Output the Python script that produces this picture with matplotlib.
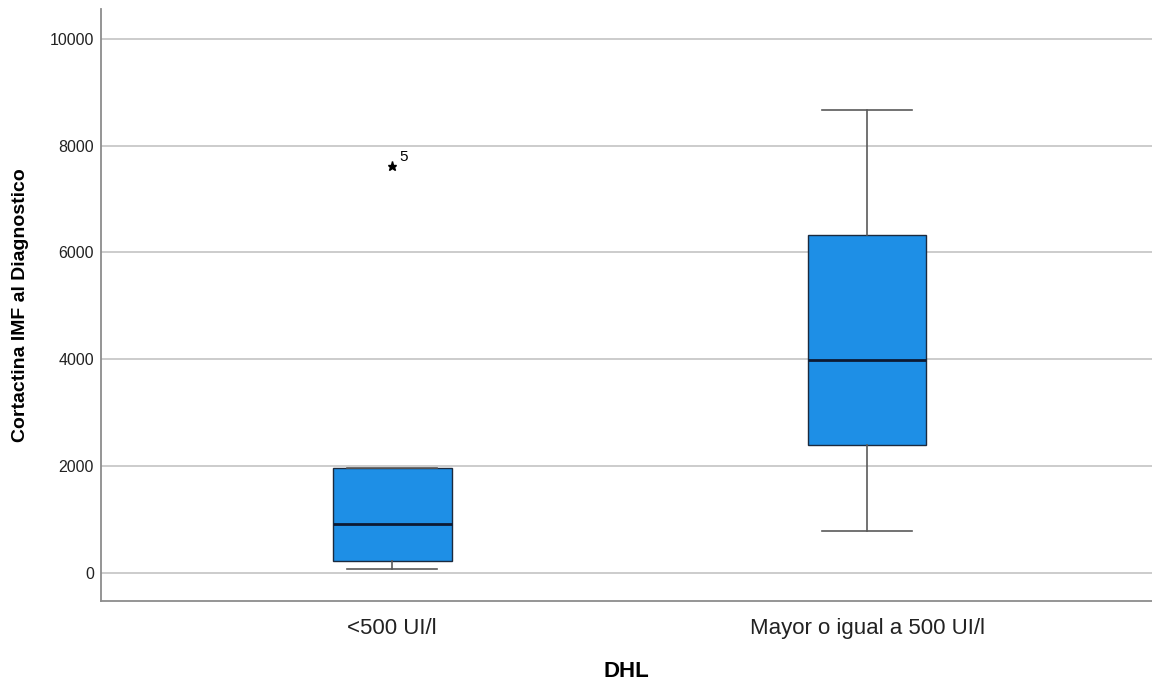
import matplotlib.pyplot as plt

plt.rcParams['font.family'] = ['Liberation Sans', 'DejaVu Sans']

# box statistics per group (Cortactina IMF, by DHL)
groups = ['<500 UI/l', 'Mayor o igual a 500 UI/l']
whislo = [75, 790]
q1 = [230, 2398]
med = [916, 3985]
q3 = [1975, 6330]
whishi = [1975, 8675]
outliers = [[7626], []]
outlier_ids = [['5'], []]

stats = []
for i in range(len(groups)):
    stats.append(dict(label=groups[i], whislo=whislo[i], q1=q1[i], med=med[i],
                      q3=q3[i], whishi=whishi[i], fliers=[]))

fig = plt.figure(figsize=(11.52, 6.82), dpi=100)
ax = fig.add_axes([0.0877, 0.1188, 0.9123, 0.8682])

positions = list(range(len(groups)))
ax.bxp(stats, positions=positions, widths=0.25, patch_artist=True,
       showfliers=False,
       boxprops=dict(facecolor='#1e8fe6', edgecolor='#1b2a3e', linewidth=1.0),
       medianprops=dict(color='#0d1a33', linewidth=2.0),
       whiskerprops=dict(color='#5a5a5a', linewidth=1.2),
       capprops=dict(color='#5a5a5a', linewidth=1.2),
       capwidths=0.19, zorder=3)

# extreme values drawn as stars with case numbers
for i, vals in enumerate(outliers):
    for v, lab in zip(vals, outlier_ids[i]):
        ax.plot(positions[i], v, marker='*', color='black', markersize=6.5,
                linestyle='none', zorder=4)
        ax.annotate(lab, (positions[i], v), xytext=(5, 3),
                    textcoords='offset points', fontsize=11, color='black')

ax.set_xlim(-0.613, 1.6)
ax.set_ylim(-523, 10560)
ax.set_yticks([0, 2000, 4000, 6000, 8000, 10000])
ax.set_xticks(positions)
ax.set_xticklabels(groups, fontsize=16, color='#222222')
ax.tick_params(axis='y', labelsize=11.5, length=0, pad=5, colors='#222222')
ax.tick_params(axis='x', length=0, pad=12)

ax.grid(axis='y', color='#c8c8c8', linewidth=1.3, zorder=0)
ax.set_axisbelow(True)
for s in ['top', 'right']:
    ax.spines[s].set_visible(False)
for s in ['left', 'bottom']:
    ax.spines[s].set_color('#8c8c8c')
    ax.spines[s].set_linewidth(1.3)

ax.set_ylabel('Cortactina IMF al Diagnostico', fontsize=14, fontweight='bold', labelpad=15)
ax.set_xlabel('DHL', fontsize=16, fontweight='bold', labelpad=16)

fig.savefig('out.png', dpi=100, facecolor='white')
